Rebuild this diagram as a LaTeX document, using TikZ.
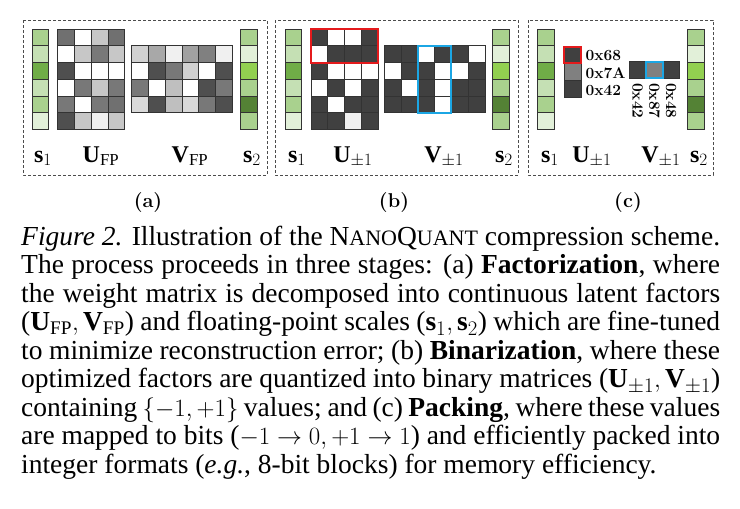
\documentclass[tikz,border=0pt]{standalone}
\usepackage{fontspec}
\setmainfont{Liberation Serif}
\newfontfamily\lmfont{Latin Modern Roman}
\usetikzlibrary{positioning}

% scale colours
\definecolor{sA}{HTML}{A9D18E}
\definecolor{sB}{HTML}{C5E0B4}
\definecolor{sC}{HTML}{70AD47}
\definecolor{sD}{HTML}{E2F0D9}
\definecolor{sE}{HTML}{92D050}
\definecolor{sF}{HTML}{548235}
\definecolor{hlred}{HTML}{E41A1C}
\definecolor{hlblue}{HTML}{1BA6E4}

\newcommand{\cs}{16.75}
% matrix of cells: x0, y0, columns, list of fills
\newcommand{\drawmat}[4]{%
  \foreach \g [count=\k from 0] in {#4} {
    \pgfmathtruncatemacro{\cc}{mod(\k,#3)}
    \pgfmathtruncatemacro{\rr}{div(\k,#3)}
    \filldraw[cell, fill=\g] ({#1+\cc*\cs},{#2+\rr*\cs}) rectangle ++(\cs,\cs);
  }}
\newcommand{\nq}{N{\fontsize{22}{24}\selectfont ANO}Q{\fontsize{22}{24}\selectfont UANT}}

\tikzset{
  cell/.style={draw=black!80, line width=0.6pt},
  panel/.style={draw=black!70, line width=0.6pt, dash pattern=on 3pt off 2pt},
  lab/.style={anchor=base, inner sep=0pt, font=\fontsize{24}{26}\selectfont},
  sublab/.style={anchor=base, inner sep=0pt, font=\lmfont\bfseries\fontsize{20}{22}\selectfont},
  hex/.style={inner sep=0pt, font=\lmfont\bfseries\fontsize{15.5}{17}\selectfont},
  redbox/.style={draw=hlred, line width=2pt},
  bluebox/.style={draw=hlblue, line width=2pt}
}

\begin{document}
\begin{tikzpicture}[x=1pt,y=-1pt]
  \useasboundingbox (0,0) rectangle (740,509);

  % (a) factorization
  \draw[panel] (23,20) rectangle (267,175);
  \drawmat{32}{29}{1}{sA,sB,sC,sB,sA,sD}
  \drawmat{57.7}{29}{4}{black!56,white,black!22,black!56,
    white,black!22,black!53,black!22,
    black!69,white,white,white,
    white,black!53,black!22,black!53,
    black!53,white,black!53,black!56,
    black!69,black!22,black!6,black!22}
  \drawmat{131.7}{45.7}{6}{black!18,black!34,black!6,black!37,black!50,black!6,
    white,black!69,black!53,black!18,white,black!69,
    black!53,white,black!25,white,black!69,black!53,
    black!15,black!69,black!25,black!15,black!53,black!69}
  \drawmat{240.7}{29}{1}{sA,sD,sE,sA,sF,sA}
  \node[lab] (s1a) at (43,162) {$\mathbf{s}_1$};
  \node[lab] (ufp) at (101,162) {$\mathbf{U}_{\mathrm{FP}}$};
  \node[lab] (vfp) at (190,162) {$\mathbf{V}_{\mathrm{FP}}$};
  \node[lab] (s2a) at (252,162) {$\mathbf{s}_2$};
  \node[sublab] (suba) at (148,207) {(a)};

  % (b) binarization
  \draw[panel] (275,20) rectangle (518,175);
  \drawmat{285}{29}{1}{sA,sB,sC,sB,sA,sD}
  \drawmat{311}{29}{4}{black!75,white,white,black!75,
    white,black!75,black!75,black!75,
    black!75,white,white,white,
    white,black!75,white,black!75,
    black!75,white,black!75,black!75,
    black!75,black!75,black!6,black!75}
  \drawmat{384.3}{45.7}{6}{black!75,black!75,white,black!75,black!75,white,
    white,black!75,black!75,white,white,black!75,
    black!75,white,black!75,white,black!75,black!75,
    black!75,black!75,black!75,white,black!75,black!75}
  \drawmat{492.7}{29}{1}{sA,sD,sE,sA,sF,sA}
  \draw[redbox] (311,29) rectangle ++({4*\cs},{2*\cs});
  \draw[bluebox] ({384.3+2*\cs},45.7) rectangle ++({2*\cs},{4*\cs});
  \node[lab] (s1b) at (297,162) {$\mathbf{s}_1$};
  \node[lab] (ub) at (353,162) {$\mathbf{U}_{\pm1}$};
  \node[lab] (vb) at (444,162) {$\mathbf{V}_{\pm1}$};
  \node[lab] (s2b) at (504,162) {$\mathbf{s}_2$};
  \node[sublab] (subb) at (394,207) {(b)};

  % (c) packing
  \draw[panel] (528,20) rectangle (713,175);
  \drawmat{537.7}{29}{1}{sA,sB,sC,sB,sA,sD}
  \drawmat{564.3}{46.7}{1}{black!75,black!50,black!75}
  \drawmat{629.3}{61.7}{3}{black!75,black!50,black!75}
  \drawmat{687.3}{29}{1}{sA,sD,sE,sA,sF,sA}
  \draw[redbox] (564.3,46.7) rectangle ++(\cs,\cs);
  \draw[bluebox] ({629.3+\cs},61.7) rectangle ++(\cs,\cs);
  \node[hex, anchor=west] (h68) at (585.5,56) {0x68};
  \node[hex, anchor=west] (h7a) at (585.5,73) {0x7A};
  \node[hex, anchor=west] (h42) at (585.5,90) {0x42};
  \node[hex, rotate=-90, anchor=west] (v42) at (637.7,83) {0x42};
  \node[hex, rotate=-90, anchor=west] (v87) at (654.5,83) {0x87};
  \node[hex, rotate=-90, anchor=west] (v48) at (671.2,83) {0x48};
  \node[lab] (s1c) at (550,162) {$\mathbf{s}_1$};
  \node[lab] (uc) at (592,162) {$\mathbf{U}_{\pm1}$};
  \node[lab] (vc) at (661,162) {$\mathbf{V}_{\pm1}$};
  \node[lab] (s2c) at (699,162) {$\mathbf{s}_2$};
  \node[sublab] (subc) at (628,207) {(c)};

  % caption
  \node[anchor=base west, inner sep=0pt, text width=699pt, align=justify,
    font=\fontsize{27.5}{28.5}\selectfont] (caption) at (21,245) {%
    \hyphenpenalty=10000 \tolerance=10000
    \textit{Figure 2.} Illustration of the \nq\ compression scheme.\linebreak
    The process proceeds in three stages: (a) \textbf{Factorization}, where\linebreak
    the weight matrix is decomposed into continuous latent factors\linebreak
    ($\mathbf{U}_{\mathrm{FP}}, \mathbf{V}_{\mathrm{FP}}$) and floating-point scales ($\mathbf{s}_1, \mathbf{s}_2$) which are fine-tuned\linebreak
    to minimize reconstruction error; (b) \textbf{Binarization}, where these\linebreak
    optimized factors are quantized into binary matrices ($\mathbf{U}_{\pm1}, \mathbf{V}_{\pm1}$)\linebreak
    containing $\{-1,+1\}$ values; and (c) \textbf{Packing}, where these values\linebreak
    are mapped to bits ($-1\rightarrow0, +1\rightarrow1$) and efficiently packed into\linebreak
    integer formats (\textit{e.g.}, 8-bit blocks) for memory efficiency.};
\end{tikzpicture}
\end{document}
